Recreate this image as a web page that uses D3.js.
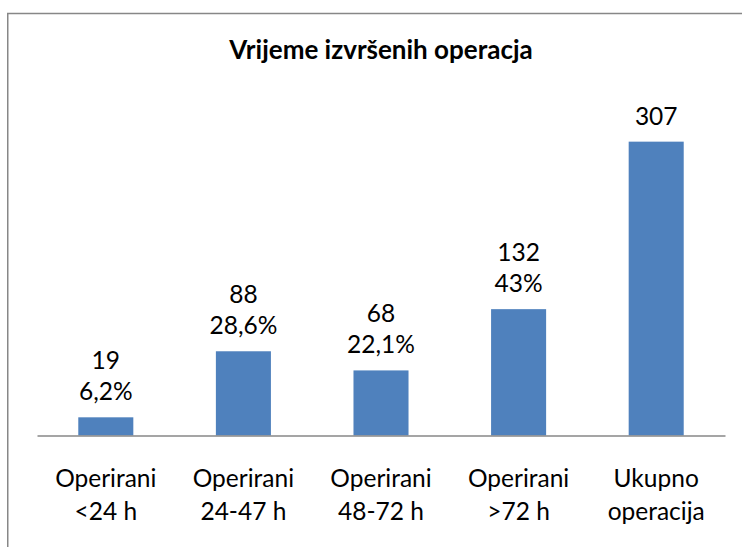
<!DOCTYPE html>
<html>
<head>
<meta charset="utf-8">
<script src="https://cdn.jsdelivr.net/npm/d3@7"></script>
<style>
  html, body { margin: 0; padding: 0; background: #fff; }
  svg { display: block; }
  text { font-family: Lato, "Open Sans", sans-serif; fill: #000; }
</style>
</head>
<body>
<svg id="chart" width="742" height="547"></svg>
<script>
const title = "Vrijeme izvršenih operacja";
const categories = ["Operirani <24 h", "Operirani 24-47 h", "Operirani 48-72 h", "Operirani >72 h", "Ukupno operacija"];
const categoryLines = [["Operirani", "<24 h"], ["Operirani", "24-47 h"], ["Operirani", "48-72 h"], ["Operirani", ">72 h"], ["Ukupno", "operacija"]];
const values = [19, 88, 68, 132, 307];
const percents = ["6,2%", "28,6%", "22,1%", "43%", null];
const yMax = 350;

const svg = d3.select("#chart");

// outer chart border (extends beyond right/bottom edge)
svg.append("rect")
  .attr("x", 7.75).attr("y", 13.5)
  .attr("width", 800).attr("height", 600)
  .attr("fill", "none").attr("stroke", "#878787").attr("stroke-width", 1.5);

const x = d3.scaleBand().domain(categories).range([37, 725]).paddingInner(0.6).paddingOuter(0.3);
const y = d3.scaleLinear().domain([0, yMax]).range([435.5, 100.5]);

svg.append("text")
  .attr("x", 381).attr("y", 59)
  .attr("text-anchor", "middle")
  .attr("font-weight", "bold")
  .attr("font-size", 26)
  .text(title);

svg.selectAll("rect.bar").data(values).join("rect")
  .attr("class", "bar")
  .attr("x", (d, i) => x(categories[i]))
  .attr("width", x.bandwidth())
  .attr("y", d => y(d))
  .attr("height", d => y(0) - y(d))
  .attr("fill", "#4F81BD");

// axis line
const axis = svg.append("g").attr("transform", `translate(0,${y(0)})`)
  .call(d3.axisBottom(x).tickSize(0).tickFormat(""));
axis.select(".domain").attr("stroke", "#878787").attr("stroke-width", 1.3);

// category labels
const cl = svg.selectAll("text.cat").data(categoryLines).join("text")
  .attr("class", "cat")
  .attr("text-anchor", "middle")
  .attr("font-size", 24.5)
  .attr("x", (d, i) => x(categories[i]) + x.bandwidth() / 2);
cl.append("tspan").attr("x", (d, i) => x(categories[i]) + x.bandwidth() / 2).attr("y", 487).text(d => d[0]);
cl.append("tspan").attr("x", (d, i) => x(categories[i]) + x.bandwidth() / 2).attr("y", 519.5).text(d => d[1]);

// data labels
values.forEach((v, i) => {
  const cx = x(categories[i]) + x.bandwidth() / 2;
  const top = y(v);
  const lines = percents[i] ? [String(v), percents[i]] : [String(v)];
  const n = lines.length;
  lines.forEach((t, j) => {
    svg.append("text")
      .attr("class", "dl")
      .attr("x", cx)
      .attr("y", top - 17 - (n - 1 - j) * 31)
      .attr("text-anchor", "middle")
      .attr("font-size", 24.5)
      .text(t);
  });
});
</script>
</body>
</html>
